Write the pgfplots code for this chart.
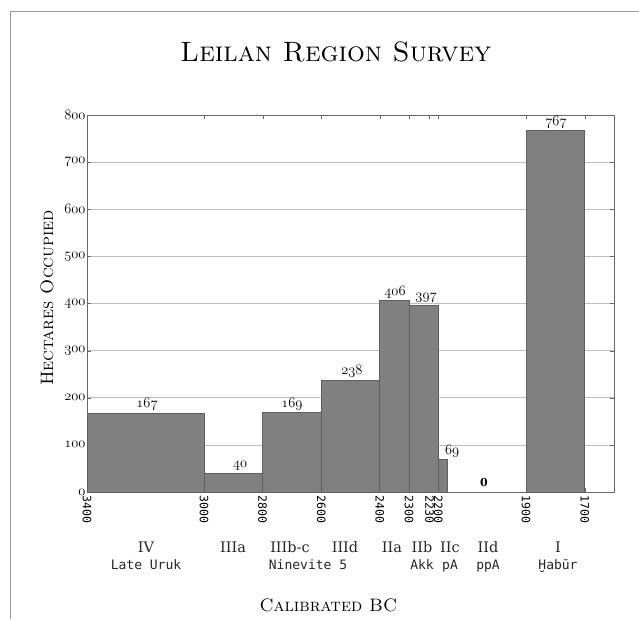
\documentclass[border=0pt]{standalone}
\usepackage{fontspec}
\usepackage{pgfplots}
\pgfplotsset{compat=1.18}
\newfontfamily\monof{DejaVu Sans Mono}
\newfontfamily\romf{DejaVu Serif}
\newcommand\osf[1]{{\usefont{OML}{cmm}{m}{it}#1}}
\definecolor{barfill}{RGB}{128,128,128}
\definecolor{baredge}{RGB}{95,95,95}
\definecolor{axcol}{RGB}{105,105,105}
\definecolor{gridcol}{RGB}{190,190,190}
\begin{document}
\begin{tikzpicture}
\useasboundingbox (0,0) rectangle (639pt,619pt);
\draw[gray!80, line width=0.8pt] (10pt,0) -- (10pt,608pt) -- (639pt,608pt);
\begin{axis}[
  at={(87pt,127pt)}, anchor=south west,
  scale only axis, width=527pt, height=377pt,
  x dir=reverse, xmin=1600, xmax=3400, ymin=0, ymax=800,
  xtick={3400,3000,2800,2600,2400,2300,2230,2200,1900,1700},
  xticklabels={3400,3000,2800,2600,2400,2300,2230,2200,1900,1700},
  ytick={0,100,200,300,400,500,600,700,800},
  yticklabels={\osf{0},\osf{100},\osf{200},\osf{300},\osf{400},\osf{500},\osf{600},\osf{700},\osf{800}},
  ymajorgrids, grid style={gridcol, line width=0.7pt},
  axis line style={axcol, line width=0.8pt},
  tick style={axcol}, tick align=inside, major tick length=4pt,
  xticklabel style={rotate=-90, anchor=west, font=\monof\fontsize{11.5}{11.5}\selectfont},
  yticklabel style={font=\fontsize{14.4}{14.4}\selectfont, xshift=2pt},
  title={\scshape Leilan Region Survey},
  title style={at={(rel axis cs:0.472,1.151)}, anchor=center, font=\fontsize{28}{30}\selectfont},
  xlabel={\scshape Calibrated BC},
  xlabel style={at={(rel axis cs:0.458,-0.30)}, anchor=center, font=\fontsize{18}{19}\selectfont},
  ylabel={\scshape Hectares Occupied},
  ylabel style={at={(rel axis cs:-0.076,0.515)}, anchor=center, font=\fontsize{18}{19}\selectfont},
  nodes near coords={\osf{\pgfplotspointmeta}},
  every node near coord/.append style={font=\fontsize{14.4}{14.4}\selectfont, anchor=south, yshift=-1pt},
  clip=false,
]
\addplot[fill=barfill, draw=baredge, line width=0.6pt, nodes near coords={}] coordinates {(3400,167) (3000,167)} \closedcycle;
\addplot[fill=barfill, draw=baredge, line width=0.6pt, nodes near coords={}] coordinates {(3000,40) (2800,40)} \closedcycle;
\addplot[fill=barfill, draw=baredge, line width=0.6pt, nodes near coords={}] coordinates {(2800,169) (2600,169)} \closedcycle;
\addplot[fill=barfill, draw=baredge, line width=0.6pt, nodes near coords={}] coordinates {(2600,238) (2400,238)} \closedcycle;
\addplot[fill=barfill, draw=baredge, line width=0.6pt, nodes near coords={}] coordinates {(2400,406) (2300,406)} \closedcycle;
\addplot[fill=barfill, draw=baredge, line width=0.6pt, nodes near coords={}] coordinates {(2300,397) (2200,397)} \closedcycle;
\addplot[fill=barfill, draw=baredge, line width=0.6pt, nodes near coords={}] coordinates {(2200,69) (2170,69)} \closedcycle;
\addplot[fill=barfill, draw=baredge, line width=0.6pt, nodes near coords={}] coordinates {(1900,767) (1700,767)} \closedcycle;
\addplot[only marks, mark=none, point meta=explicit symbolic] table[meta=label] {
x y label
3195 167 167
2877 40 40
2700 169 169
2495 238 238
2348 406 406
2242 397 397
2153 69 69
1798 767 767
};
\addplot[only marks, mark=none, point meta=explicit symbolic,
  nodes near coords={\bfseries\pgfplotspointmeta},
  every node near coord/.append style={font=\romf\bfseries\fontsize{11}{11}\selectfont, yshift=3pt}] table[meta=label] {
x y label
2044 0 0
};
\end{axis}
\begin{scope}[every node/.style={font=\romf\fontsize{14.5}{14.5}\selectfont, anchor=base, inner sep=0pt, text=black!85}]
\node at (146pt,67pt) {IV};
\node at (233pt,67pt) {IIIa};
\node at (290pt,67pt) {IIIb-c};
\node at (345pt,67pt) {IIId};
\node at (392pt,67pt) {IIa};
\node at (422pt,67pt) {IIb};
\node at (450pt,67pt) {IIc};
\node at (488pt,67pt) {IId};
\node at (558pt,67pt) {I};
\end{scope}
\begin{scope}[every node/.style={font=\monof\fontsize{13}{13}\selectfont, anchor=base, inner sep=0pt, text=black!85}]
\node at (146pt,50pt) {Late Uruk};
\node at (308pt,50pt) {Ninevite 5};
\node at (422pt,50pt) {Akk};
\node at (450pt,50pt) {pA};
\node at (488pt,50pt) {ppA};
\node at (558pt,50pt) {Ḫabūr};
\end{scope}
\end{tikzpicture}
\end{document}
